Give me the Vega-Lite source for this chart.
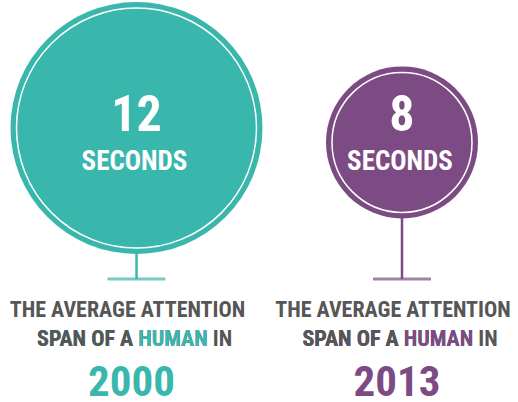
{
  "$schema": "https://vega.github.io/schema/vega-lite/v6.json",
  "width": 518,
  "height": 402,
  "padding": 0,
  "autosize": "none",
  "background": "white",
  "config": {"view": {"stroke": null}},
  "data": {
    "values": [
      {"year": 2000, "seconds": 12, "label": "12"},
      {"year": 2013, "seconds": 8, "label": "8"}
    ]
  },
  "resolve": {"scale": {"size": "independent"}},
  "encoding": {
    "x": {"field": "year", "type": "quantitative", "axis": null, "scale": {"domain": [1993.316, 2018.68], "nice": false, "zero": false}}
  },
  "layer": [
    {
      "mark": {"type": "rule", "strokeWidth": 2.5},
      "encoding": {
        "y": {"field": "seconds", "type": "quantitative", "axis": null, "scale": {"domain": [-64.21, 47.61], "nice": false, "zero": false}},
        "y2": {"datum": -30},
        "color": {"field": "year", "type": "nominal", "legend": null, "scale": {"domain": [2000, 2013], "range": ["#3AB7AC", "#7D4B84"]}}
      }
    },
    {
      "mark": {"type": "tick", "orient": "horizontal", "size": 58, "thickness": 3},
      "encoding": {
        "y": {"datum": -30, "type": "quantitative"},
        "color": {"field": "year", "type": "nominal", "legend": null}
      }
    },
    {
      "mark": {"type": "point", "shape": "circle", "filled": true, "opacity": 1},
      "encoding": {
        "y": {"field": "seconds", "type": "quantitative"},
        "size": {"field": "seconds", "type": "quantitative", "legend": null, "scale": {"domain": [8, 12], "range": [23104, 63504], "zero": false}},
        "color": {"field": "year", "type": "nominal", "legend": null}
      }
    },
    {
      "mark": {"type": "point", "shape": "circle", "filled": false, "stroke": "white", "strokeWidth": 1.5, "opacity": 1},
      "encoding": {
        "y": {"field": "seconds", "type": "quantitative"},
        "size": {"field": "seconds", "type": "quantitative", "legend": null, "scale": {"domain": [8, 12], "range": [19600, 57600], "zero": false}}
      }
    },
    {
      "mark": {"type": "text", "font": "Roboto Condensed", "fontWeight": "bold", "fontSize": 50, "baseline": "alphabetic", "align": "center", "dy": -148, "color": "white"},
      "encoding": {
        "y": {"datum": -30, "type": "quantitative"},
        "text": {"field": "label", "type": "nominal"}
      }
    },
    {
      "mark": {"type": "text", "text": "SECONDS", "font": "Roboto Condensed", "fontWeight": "bold", "fontSize": 27, "baseline": "alphabetic", "align": "center", "dy": -109, "dx": -2, "color": "white"},
      "encoding": {
        "y": {"datum": -30, "type": "quantitative"}
      }
    },
    {
      "mark": {"type": "text", "text": "THE AVERAGE ATTENTION", "font": "Roboto Condensed", "fontWeight": "bold", "fontSize": 22, "baseline": "alphabetic", "align": "center", "dy": 38, "dx": -9, "color": "#565656"},
      "encoding": {
        "y": {"datum": -30, "type": "quantitative"}
      }
    },
    {
      "mark": {"type": "text", "text": "SPAN OF A HUMAN IN", "font": "Roboto Condensed", "fontWeight": "bold", "fontSize": 22, "baseline": "alphabetic", "align": "left", "dy": 67, "dx": -99.5, "color": "#565656"},
      "encoding": {
        "y": {"datum": -30, "type": "quantitative"}
      }
    },
    {
      "mark": {"type": "text", "text": "SPAN OF A HUMAN", "font": "Roboto Condensed", "fontWeight": "bold", "fontSize": 22, "baseline": "alphabetic", "align": "left", "dy": 67, "dx": -99.5},
      "encoding": {
        "y": {"datum": -30, "type": "quantitative"},
        "color": {"field": "year", "type": "nominal", "legend": null}
      }
    },
    {
      "mark": {"type": "text", "text": "SPAN OF A", "font": "Roboto Condensed", "fontWeight": "bold", "fontSize": 22, "baseline": "alphabetic", "align": "left", "dy": 67, "dx": -99.5, "color": "#565656"},
      "encoding": {
        "y": {"datum": -30, "type": "quantitative"}
      }
    },
    {
      "mark": {"type": "text", "font": "Roboto Condensed", "fontWeight": "bold", "fontSize": 43, "baseline": "alphabetic", "align": "center", "dy": 117, "dx": -5},
      "encoding": {
        "y": {"datum": -30, "type": "quantitative"},
        "text": {"field": "year", "type": "nominal"},
        "color": {"field": "year", "type": "nominal", "legend": null}
      }
    }
  ]
}
